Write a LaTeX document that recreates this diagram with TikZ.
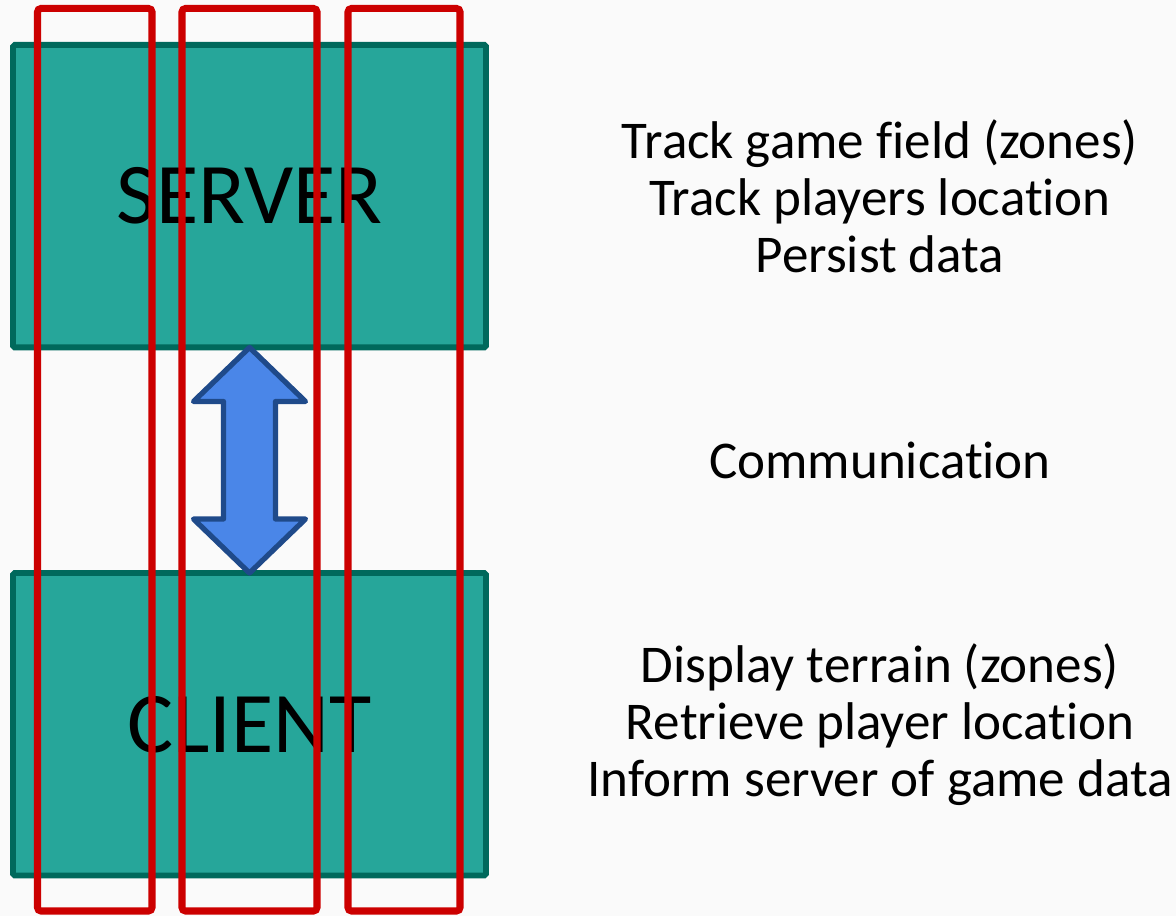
\documentclass[tikz,border=0pt]{standalone}
\usepackage{fontspec}
\setmainfont[Ligatures=NoCommon]{Carlito}
\usetikzlibrary{calc}
\definecolor{tealfill}{HTML}{26A69A}
\definecolor{tealline}{HTML}{00695C}
\definecolor{framered}{HTML}{CC0000}
\definecolor{arrowfill}{HTML}{4A86E8}
\definecolor{arrowline}{HTML}{1F4A8A}
\begin{document}
\begin{tikzpicture}[x=1cm,y=1cm,
		box/.style={draw=tealline, fill=tealfill, line width=1.7pt, rounded corners=0.5pt,
			minimum width=4.73cm, minimum height=3.025cm, outer sep=0pt,
			font=\fontsize{24.6}{28}\selectfont},
		commarrow/.style={draw=arrowline, fill=arrowfill, line width=1.5pt, line join=round},
		column/.style={draw=framered, line width=2pt, rounded corners=1pt},
		desc/.style={align=center, font=\fontsize{15.1}{16.2}\selectfont},
	]
	\fill[black!2] (0,0) rectangle (11.76,9.16);
	\useasboundingbox (0,0) rectangle (11.76,9.16);

	% boxes
	\node[box] (server) at (2.495,7.1975) {SERVER};
	\node[box] (client) at (2.495,1.9175) {CLIENT};

	% arrow
	\draw[commarrow] (server.south) -- ++(0.56,-0.54) -- ++(-0.30,0) -- ++(0,-1.175)
		-- ++(0.30,0) -- (client.north) -- ++(-0.56,0.54) -- ++(0.30,0)
		-- ++(0,1.175) -- ++(-0.30,0) -- cycle;

	% labels
	\node[desc] (servertasks) at ([xshift=6.305cm]server.center)
		{Track game field (zones)\\Track players location\\Persist data};
	\node[desc] (commtask) at ($(server.south)!0.5!(client.north)+(6.305,0)$)
		{Communication};
	\node[desc] (clienttasks) at ([xshift=6.305cm]client.center)
		{Display terrain (zones)\\Retrieve player location\\Inform server of game data};

	% columns
	\foreach \l/\r in {0.375/1.52, 1.82/3.17, 3.48/4.60}
		\draw[column] (\l,0.05) rectangle (\r,9.075);
\end{tikzpicture}
\end{document}
